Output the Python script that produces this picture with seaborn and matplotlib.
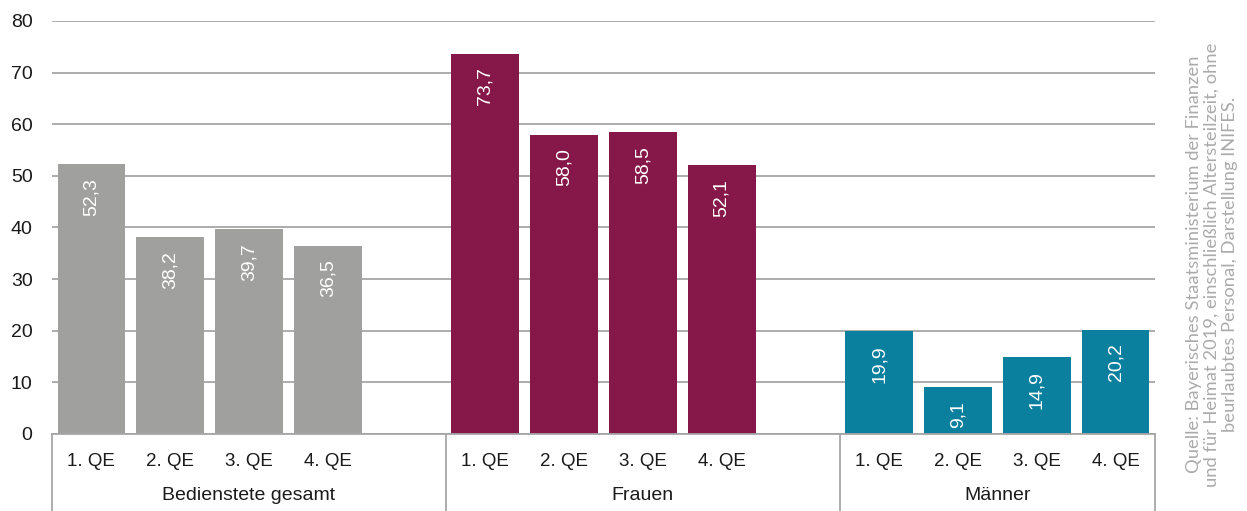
import seaborn as sns
import matplotlib.pyplot as plt
import pandas as pd

# data
gruppen = ['Bedienstete gesamt', 'Frauen', 'Männer']
qe = ['1. QE', '2. QE', '3. QE', '4. QE']
gesamt = [52.3, 38.2, 39.7, 36.5]
frauen = [73.7, 58.0, 58.5, 52.1]
maenner = [19.9, 9.1, 14.9, 20.2]
farben = {'Bedienstete gesamt': '#a0a09f', 'Frauen': '#851848', 'Männer': '#0b7f9e'}
quelle = ('Quelle: Bayerisches Staatsministerium der Finanzen\n'
          'und für Heimat 2019, einschließlich Altersteilzeit, ohne\n'
          'beurlaubtes Personal, Darstellung INIFES.')

rows = []
for g, werte in zip(gruppen, [gesamt, frauen, maenner]):
    for q, v in zip(qe, werte):
        rows.append({'slot': g + ' ' + q, 'gruppe': g, 'qe': q, 'wert': v})
df = pd.DataFrame(rows)

# one empty slot between groups
order = []
for i, g in enumerate(gruppen):
    order += [g + ' ' + q for q in qe]
    if i < len(gruppen) - 1:
        order.append('leer %d' % i)

sns.set_style('white')
plt.rcParams['font.family'] = ['Liberation Sans', 'DejaVu Sans']

fig = plt.figure(figsize=(12.47, 5.11), dpi=100)
ax = fig.add_axes([52 / 1247, 1 - 434 / 511, 1103 / 1247, 413 / 511])

sns.barplot(data=df, x='slot', y='wert', hue='gruppe', order=order,
            palette=farben, dodge=False, width=0.86, legend=False,
            saturation=1, linewidth=0, ax=ax)

ax.set_ylim(0, 80)
ax.set_xlim(-0.5, len(order) - 0.5)
ax.set_yticks(range(0, 81, 10))
ax.yaxis.grid(True, color='#a6a6a6', linewidth=1.3)
ax.set_axisbelow(True)
for s in ['left', 'right', 'top']:
    ax.spines[s].set_visible(False)
ax.spines['bottom'].set_color('#a6a6a6')
ax.spines['bottom'].set_linewidth(1.3)
ax.tick_params(axis='y', length=0, pad=14, labelsize=14, labelcolor='#1a1a1a')
ax.set_xticks([])
ax.set_xlabel('')
ax.set_ylabel('')

# value labels inside bars
for _, r in df.iterrows():
    xi = order.index(r['slot'])
    ax.annotate(f"{r['wert']:.1f}".replace('.', ','), (xi, r['wert']),
                xytext=(0, -10), textcoords='offset points',
                ha='center', va='top', rotation=90, color='white', fontsize=14)

# two-level category axis
trans = ax.get_xaxis_transform()
for _, r in df.iterrows():
    xi = order.index(r['slot'])
    ax.text(xi, -0.066, r['qe'], transform=trans, ha='center', va='center',
            fontsize=13.5, color='#1a1a1a')

starts = [order.index(g + ' 1. QE') for g in gruppen]
grenzen = [-0.5, starts[1] - 0.5, starts[2] - 0.5, len(order) - 0.5]
for i, g in enumerate(gruppen):
    mitte = (grenzen[i] + grenzen[i + 1]) / 2
    ax.text(mitte, -0.15, g, transform=trans, ha='center', va='center',
            fontsize=14, color='#1a1a1a')
for b in grenzen:
    ax.plot([b, b], [0, -0.25], transform=trans, color='#a6a6a6',
            linewidth=1.3, clip_on=False)

fig.text(1212 / 1247, 0.482, quelle, rotation=90, ha='center', va='center',
         fontsize=13.2, color='#ababab', family=['Lato', 'DejaVu Sans'],
         multialignment='center', linespacing=1.18)

plt.savefig('out.png', dpi=100)
